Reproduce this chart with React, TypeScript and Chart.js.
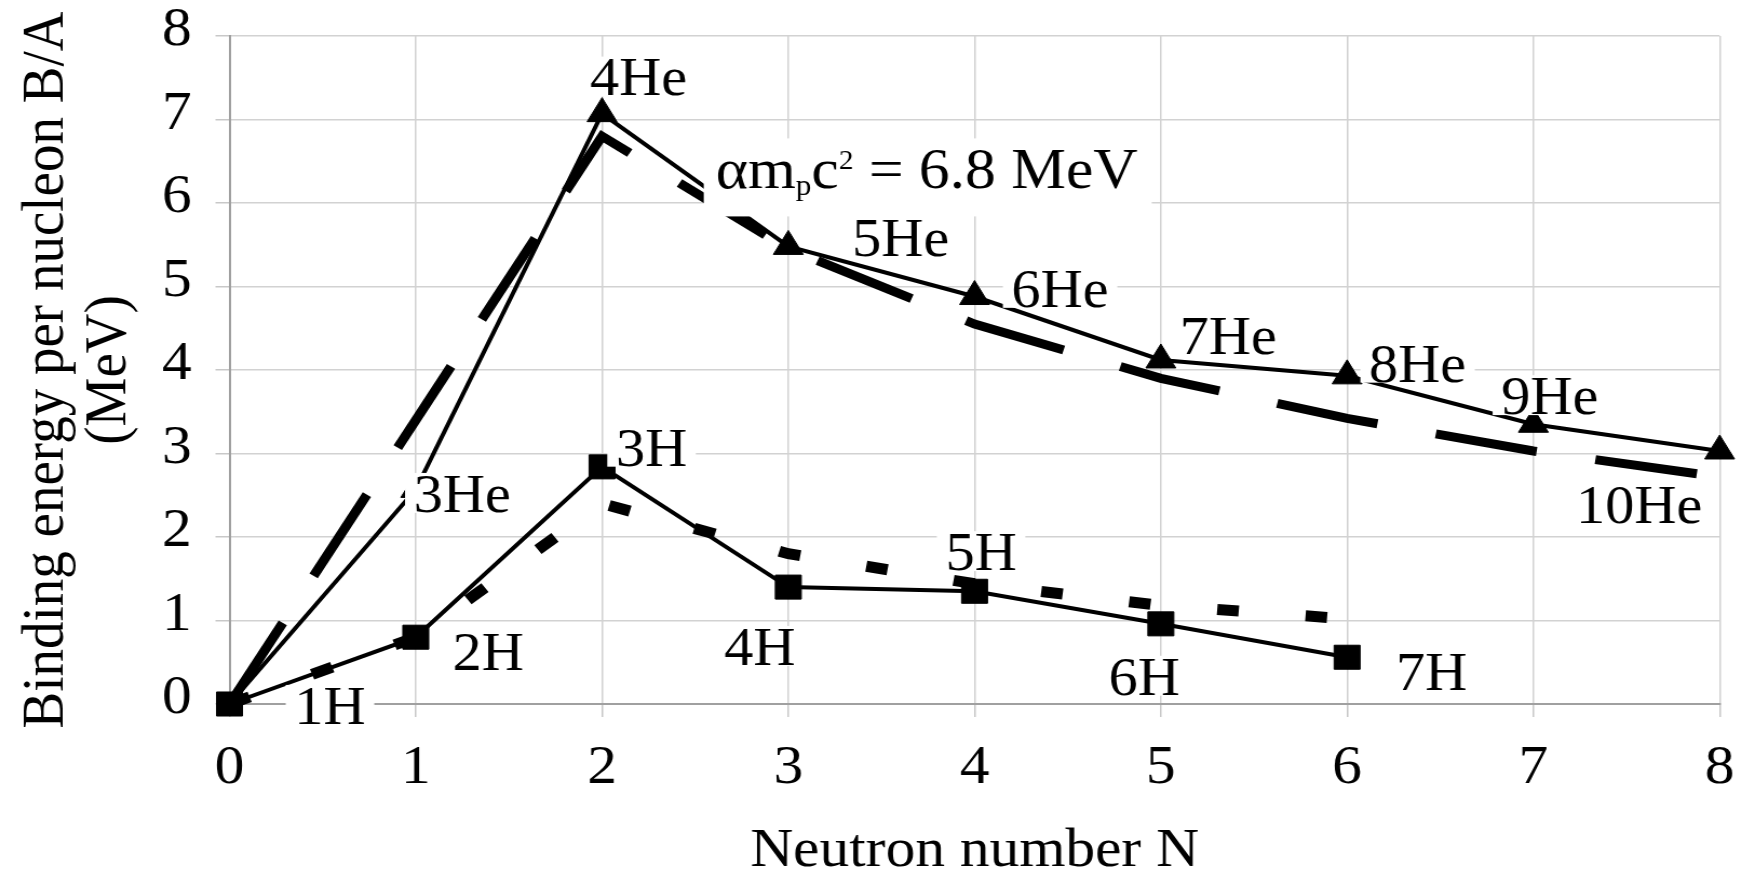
import React, { useEffect, useRef } from 'react';
import { Chart, registerables } from 'chart.js';

Chart.register(...registerables);

// ---------- data ----------
const neutronNumbers = [0, 1, 2, 3, 4, 5, 6, 7, 8];
const heliumBA = [0, 2.57, 7.07, 5.48, 4.88, 4.12, 3.93, 3.35, 3.03];
const heliumModel = [0, 3.4, 6.8, 5.45, 4.55, 3.9, 3.42, 3.03, 2.72];
const hydrogenNumbers = [0, 1, 2, 3, 4, 5, 6];
const hydrogenBA = [0, 0.8, 2.84, 1.4, 1.35, 0.96, 0.56];
const hydrogenModel = [0, 0.8, 2.4, 1.8, 1.44, 1.18, 1.02];
const heliumNames = ['', '3He', '4He', '5He', '6He', '7He', '8He', '9He', '10He'];
const hydrogenNames = ['1H', '2H', '3H', '4H', '5H', '6H', '7H'];
const xTitle = 'Neutron number N';
const yTitle = ['Binding energy per nucleon B/A', '(MeV)'];
const annotationText = ['αm', 'p', 'c', '2', ' = 6.8 MeV'];
const axisMin = 0;
const axisMax = 8;

// ---------- layout / style ----------
const STRETCH = 1.08;
const CW = Math.round(1755 / STRETCH);
const CH = 875;
const FONT = '"Liberation Serif", "Times New Roman", Times, serif';
const LABEL_SIZE = 54;
// label cap-centre offsets from their point, in reference pixels
const heliumLabelOffsets = [[0, 0], [46.5, 4.6], [36.5, -36], [112.5, -8], [85.5, -7.5], [67.5, -24], [70.5, -12], [16.5, -28], [-80.5, 54]];
const hydrogenLabelOffsets = [[100.5, 2], [72.5, 15], [49.5, -19], [-28.5, 60], [6.5, -39], [-16.5, 53], [84.5, 15]];
const annotationAnchor = { n: 2.61, v: 6.4 };

const toPoints = (ns: number[], vs: number[]) => ns.map((n, i) => ({ x: n, y: vs[i] }));

const labelPlugin = {
  id: 'pointLabels',
  afterDatasetsDraw(chart: any) {
    const ctx = chart.ctx as CanvasRenderingContext2D;
    const xs = chart.scales.x;
    const ys = chart.scales.y;
    ctx.save();
    ctx.textBaseline = 'alphabetic';
    const drawLabel = (text: string, n: number, v: number, off: number[]) => {
      if (!text) return;
      ctx.font = `${LABEL_SIZE}px ${FONT}`;
      const cx = xs.getPixelForValue(n) + off[0] / STRETCH;
      const cy = ys.getPixelForValue(v) + off[1];
      const w = ctx.measureText(text).width;
      const base = cy + LABEL_SIZE * 0.33;
      ctx.fillStyle = '#ffffff';
      ctx.fillRect(cx - w / 2 - 8, base - LABEL_SIZE * 0.72, w + 16, LABEL_SIZE * 0.72 + 1);
      ctx.fillStyle = '#000000';
      ctx.textAlign = 'center';
      ctx.fillText(text, cx, base);
    };
    heliumNames.forEach((t, i) => drawLabel(t, neutronNumbers[i], heliumBA[i], heliumLabelOffsets[i]));
    hydrogenNames.forEach((t, i) => drawLabel(t, hydrogenNumbers[i], hydrogenBA[i], hydrogenLabelOffsets[i]));

    // annotation with sub/superscripts
    const sizes = [57, 29, 57, 27, 57];
    const dys = [0, 7, 0, -19, 0];
    const left = xs.getPixelForValue(annotationAnchor.n);
    const base = ys.getPixelForValue(annotationAnchor.v) + 57 * 0.33;
    let total = 0;
    const widths = annotationText.map((t, i) => {
      ctx.font = `${sizes[i]}px ${FONT}`;
      const w = ctx.measureText(t).width;
      total += w;
      return w;
    });
    ctx.fillStyle = '#ffffff';
    ctx.fillRect(left - 11, base - 50, total + 24, 78);
    ctx.fillStyle = '#000000';
    ctx.textAlign = 'left';
    let x = left;
    annotationText.forEach((t, i) => {
      ctx.font = `${sizes[i]}px ${FONT}`;
      ctx.fillText(t, x, base + dys[i]);
      x += widths[i];
    });
    ctx.restore();
  },
};

export default function App() {
  const ref = useRef<HTMLCanvasElement | null>(null);

  useEffect(() => {
    document.body.style.margin = '0';
    document.body.style.overflow = 'hidden';
    const canvas = ref.current;
    if (!canvas) return;
    Chart.defaults.font.family = FONT;
    Chart.defaults.color = '#000';

    const chart = new Chart(canvas, {
      type: 'line',
      data: {
        datasets: [
          {
            label: 'He',
            data: toPoints(neutronNumbers, heliumBA),
            borderColor: '#000',
            backgroundColor: '#000',
            borderWidth: 4,
            pointStyle: 'triangle',
            pointRadius: neutronNumbers.map((n) => (n === 0 ? 0 : 16)),
            pointBorderWidth: 1,
            pointBackgroundColor: '#000',
            pointBorderColor: '#000',
            tension: 0,
            clip: false as any,
          },
          {
            label: 'H',
            data: toPoints(hydrogenNumbers, hydrogenBA),
            borderColor: '#000',
            backgroundColor: '#000',
            borderWidth: 4,
            pointStyle: 'rect',
            pointRadius: 17,
            pointBorderWidth: 1,
            pointBackgroundColor: '#000',
            pointBorderColor: '#000',
            tension: 0,
            clip: false as any,
          },
          {
            label: 'He model',
            data: toPoints(neutronNumbers, heliumModel),
            borderColor: '#000',
            borderWidth: 9,
            borderDash: [95, 55],
            pointRadius: 0,
            tension: 0,
            clip: false as any,
          },
          {
            label: 'H model',
            data: toPoints(hydrogenNumbers, hydrogenModel),
            borderColor: '#000',
            borderWidth: 11,
            borderDash: [20, 62],
            pointRadius: 0,
            tension: 0,
            clip: false as any,
          },
        ],
      },
      options: {
        animation: false,
        responsive: false,
        devicePixelRatio: 1,
        layout: { padding: { left: 0, right: 20, top: 36, bottom: 0 } },
        plugins: { legend: { display: false }, tooltip: { enabled: false } },
        scales: {
          x: {
            type: 'linear',
            min: axisMin,
            max: axisMax,
            grid: { color: '#d2d2d2', lineWidth: 1.5, tickLength: 13, tickColor: '#c8c8c8' },
            border: { color: '#a0a0a0', width: 2 },
            ticks: {
              stepSize: 1,
              autoSkip: false,
              maxRotation: 0,
              padding: 19,
              color: '#000',
              font: { family: FONT, size: 55, lineHeight: 1.2 },
            },
            title: {
              display: true,
              text: xTitle,
              color: '#000',
              font: { family: FONT, size: 55, lineHeight: 0.85 },
              padding: { top: 0, bottom: 0 },
            },
            afterFit: (s: any) => {
              s.height = 171;
            },
          },
          y: {
            type: 'linear',
            min: axisMin,
            max: axisMax,
            grid: { color: '#d2d2d2', lineWidth: 1.5, tickLength: 13, tickColor: '#c8c8c8' },
            border: { color: '#a0a0a0', width: 2 },
            ticks: {
              stepSize: 1,
              autoSkip: false,
              padding: 22,
              color: '#000',
              font: { family: FONT, size: 55, lineHeight: '10px' as any },
              callback: (v: any) => [String(v), ''],
            },
            title: {
              display: true,
              text: yTitle,
              color: '#000',
              font: { family: FONT, size: 55, lineHeight: 1.055 },
              padding: { top: 14.5, bottom: 0 },
            },
            afterFit: (s: any) => {
              s.width = 212.5;
            },
          },
        },
      },
      plugins: [labelPlugin],
    });
    return () => chart.destroy();
  }, []);

  return (
    <canvas
      ref={ref}
      width={CW}
      height={CH}
      style={{ width: '1755px', height: '875px', display: 'block' }}
    />
  );
}
